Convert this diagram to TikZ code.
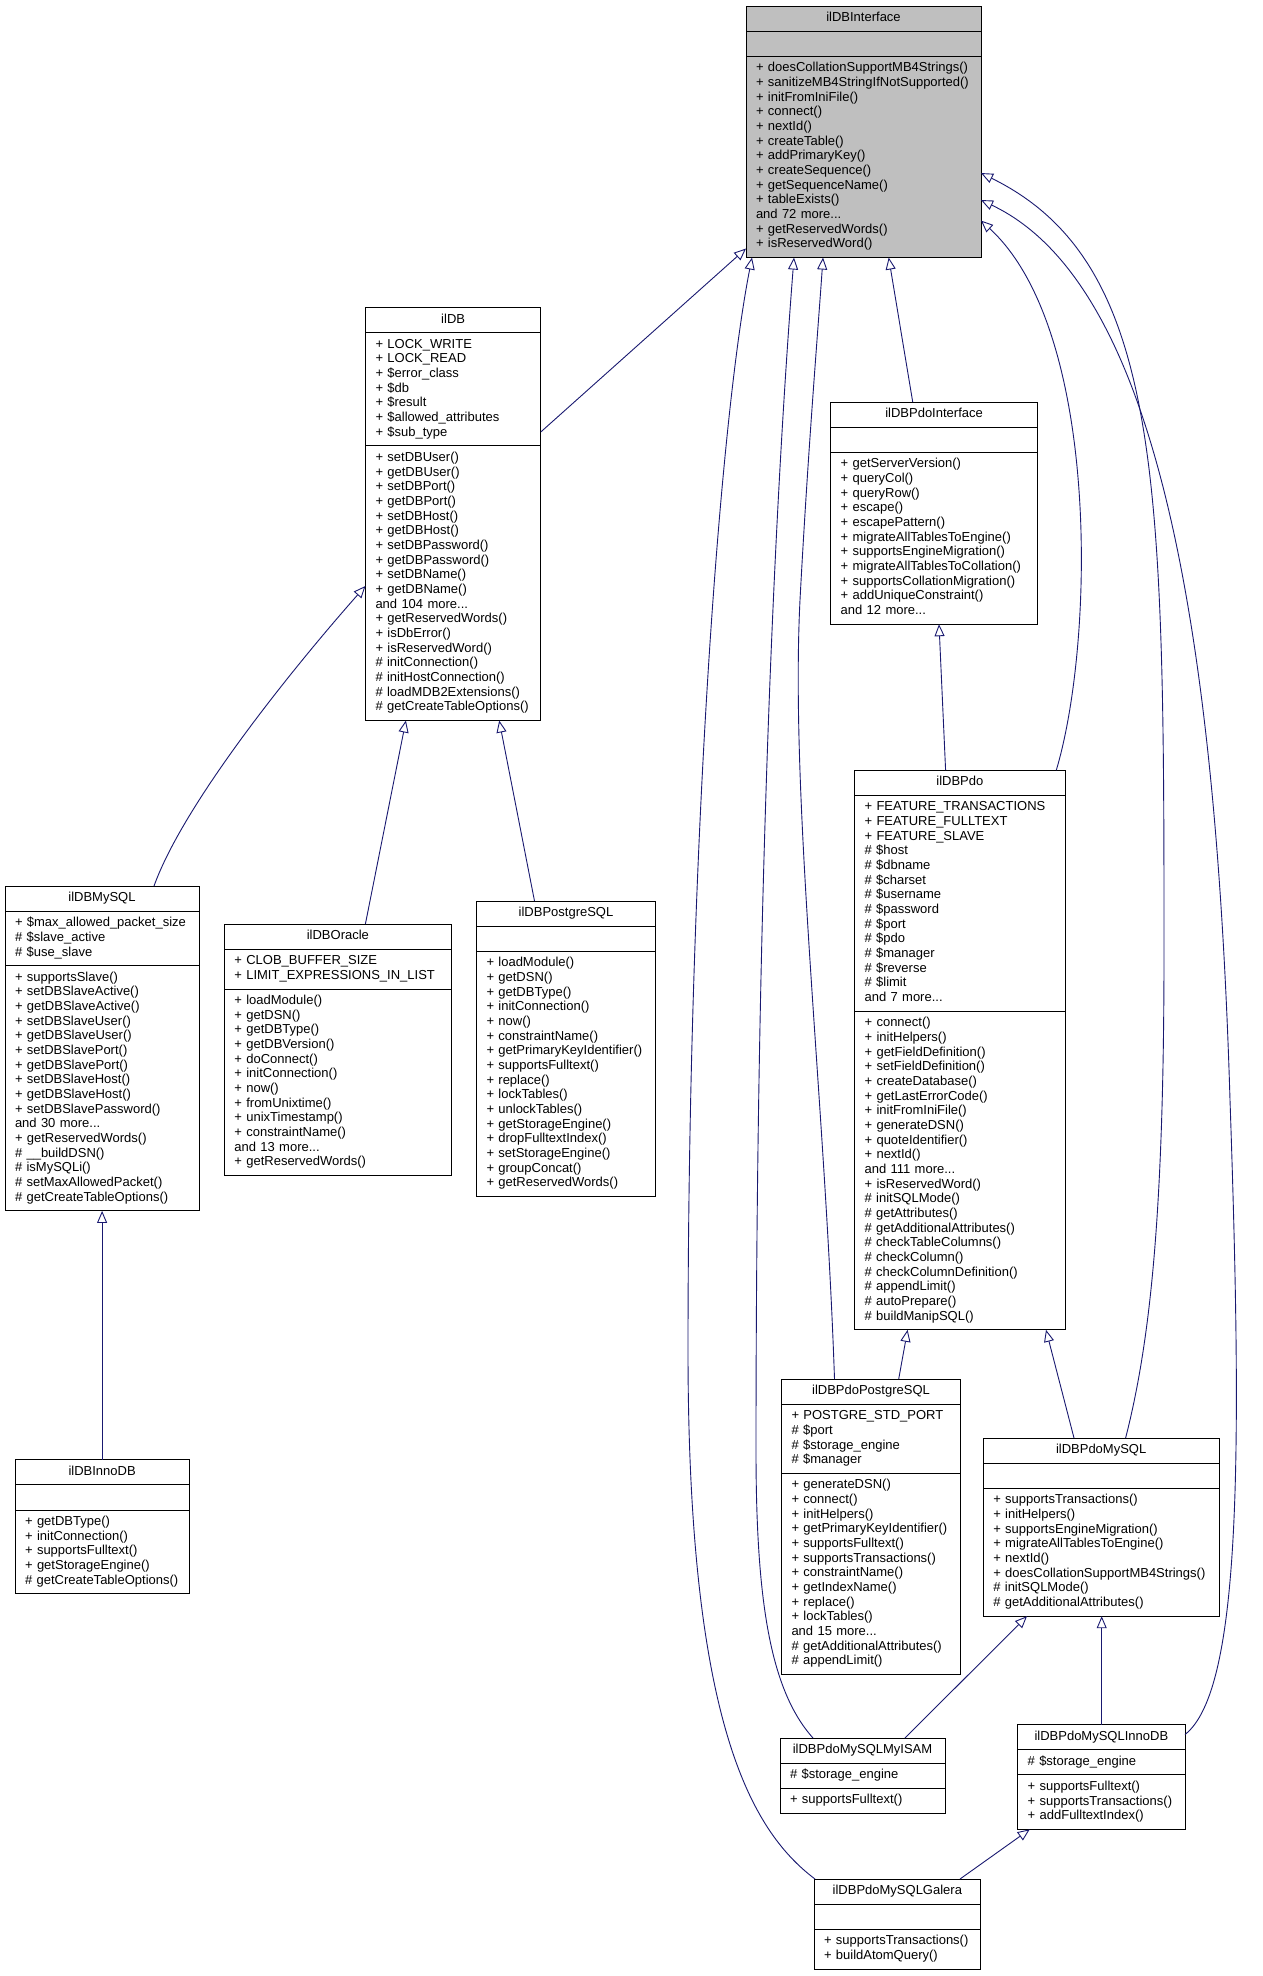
\documentclass[tikz,border=0pt]{standalone}
\usepackage{fontspec}
\setmainfont{Liberation Sans}
\usetikzlibrary{arrows.meta,calc}
\definecolor{edgeblue}{HTML}{191970}
\definecolor{ifacegray}{HTML}{BFBFBF}
\setlength\parindent{0pt}
\ExplSyntaxOn
\NewDocumentCommand\clslines{m}{
  \seq_set_split:Nnn \l_tmpa_seq {;} {#1}
  \bool_set_false:N \l_tmpa_bool
  \seq_map_inline:Nn \l_tmpa_seq
    { \bool_if:NT \l_tmpa_bool { \\ } \bool_set_true:N \l_tmpa_bool \strut\mbox{##1} }
}
\ExplSyntaxOff
\tikzset{
  clsbox/.style={draw=black, line width=1pt, fill=white, inner xsep=10pt, inner ysep=5.25pt,
    font=\fontsize{13}{14.67}\selectfont, outer sep=0pt},
  inh/.style={draw=edgeblue, line width=0.9pt, -{Triangle[open, length=12pt, width=10pt]}},
}
% #1 options, #2 name, #3 x, #4 y (top), #5 width, #6 title, #7 attributes, #8 methods
\newcommand\umlclass[8]{%
  \pgfmathsetmacro\clstw{#5-20}%
  \node[clsbox,#1,align=center,text width=\clstw pt,anchor=north west] (#2) at (#3,#4) {\strut #6};
  \node[clsbox,#1,align=left,text width=\clstw pt,anchor=north west] (#2-a) at (#2.south west) {\strut\clslines{#7}};
  \node[clsbox,#1,align=left,text width=\clstw pt,anchor=north west] (#2-m) at (#2-a.south west) {\strut\clslines{#8}};
}
\begin{document}
\begin{tikzpicture}[x=1pt,y=-1pt]
\fill[white] (0,0) rectangle (1263,1976);
\useasboundingbox (0,0) rectangle (1263,1976);

\umlclass{fill=ifacegray}{iface}{746}{6}{235}{ilDBInterface}{}{
+ doesCollationSupportMB4Strings();
+ sanitizeMB4StringIfNotSupported();
+ initFromIniFile();
+ connect();
+ nextId();
+ createTable();
+ addPrimaryKey();
+ createSequence();
+ getSequenceName();
+ tableExists();
and 72 more...;
+ getReservedWords();
+ isReservedWord()}

\umlclass{}{iDB}{365.5}{307.6}{175.3}{ilDB}{
+ LOCK\_WRITE;
+ LOCK\_READ;
+ \$error\_class;
+ \$db;
+ \$result;
+ \$allowed\_attributes;
+ \$sub\_type}{
+ setDBUser();
+ getDBUser();
+ setDBPort();
+ getDBPort();
+ setDBHost();
+ getDBHost();
+ setDBPassword();
+ getDBPassword();
+ setDBName();
+ getDBName();
and 104 more...;
+ getReservedWords();
+ isDbError();
+ isReservedWord();
\# initConnection();
\# initHostConnection();
\# loadMDB2Extensions();
\# getCreateTableOptions()}

\umlclass{}{pdoiface}{830.7}{402}{206.7}{ilDBPdoInterface}{}{
+ getServerVersion();
+ queryCol();
+ queryRow();
+ escape();
+ escapePattern();
+ migrateAllTablesToEngine();
+ supportsEngineMigration();
+ migrateAllTablesToCollation();
+ supportsCollationMigration();
+ addUniqueConstraint();
and 12 more...}

\umlclass{}{pdo}{854.6}{770.2}{210.5}{ilDBPdo}{
+ FEATURE\_TRANSACTIONS;
+ FEATURE\_FULLTEXT;
+ FEATURE\_SLAVE;
\# \$host;
\# \$dbname;
\# \$charset;
\# \$username;
\# \$password;
\# \$port;
\# \$pdo;
\# \$manager;
\# \$reverse;
\# \$limit;
and 7 more...}{
+ connect();
+ initHelpers();
+ getFieldDefinition();
+ setFieldDefinition();
+ createDatabase();
+ getLastErrorCode();
+ initFromIniFile();
+ generateDSN();
+ quoteIdentifier();
+ nextId();
and 111 more...;
+ isReservedWord();
\# initSQLMode();
\# getAttributes();
\# getAdditionalAttributes();
\# checkTableColumns();
\# checkColumn();
\# checkColumnDefinition();
\# appendLimit();
\# autoPrepare();
\# buildManipSQL()}

\umlclass{}{mysql}{5}{886}{194}{ilDBMySQL}{
+ \$max\_allowed\_packet\_size;
\# \$slave\_active;
\# \$use\_slave}{
+ supportsSlave();
+ setDBSlaveActive();
+ getDBSlaveActive();
+ setDBSlaveUser();
+ getDBSlaveUser();
+ setDBSlavePort();
+ getDBSlavePort();
+ setDBSlaveHost();
+ getDBSlaveHost();
+ setDBSlavePassword();
and 30 more...;
+ getReservedWords();
\# \_\_buildDSN();
\# isMySQLi();
\# setMaxAllowedPacket();
\# getCreateTableOptions()}

\umlclass{}{oracle}{224.4}{924}{227}{ilDBOracle}{
+ CLOB\_BUFFER\_SIZE;
+ LIMIT\_EXPRESSIONS\_IN\_LIST}{
+ loadModule();
+ getDSN();
+ getDBType();
+ getDBVersion();
+ doConnect();
+ initConnection();
+ now();
+ fromUnixtime();
+ unixTimestamp();
+ constraintName();
and 13 more...;
+ getReservedWords()}

\umlclass{}{pgsql}{476.5}{901}{179}{ilDBPostgreSQL}{}{
+ loadModule();
+ getDSN();
+ getDBType();
+ initConnection();
+ now();
+ constraintName();
+ getPrimaryKeyIdentifier();
+ supportsFulltext();
+ replace();
+ lockTables();
+ unlockTables();
+ getStorageEngine();
+ dropFulltextIndex();
+ setStorageEngine();
+ groupConcat();
+ getReservedWords()}

\umlclass{}{innodb}{15.1}{1459.7}{174}{ilDBInnoDB}{}{
+ getDBType();
+ initConnection();
+ supportsFulltext();
+ getStorageEngine();
\# getCreateTableOptions()}

\umlclass{}{pdopg}{781.5}{1379}{179}{ilDBPdoPostgreSQL}{
+ POSTGRE\_STD\_PORT;
\# \$port;
\# \$storage\_engine;
\# \$manager}{
+ generateDSN();
+ connect();
+ initHelpers();
+ getPrimaryKeyIdentifier();
+ supportsFulltext();
+ supportsTransactions();
+ constraintName();
+ getIndexName();
+ replace();
+ lockTables();
and 15 more...;
\# getAdditionalAttributes();
\# appendLimit()}

\umlclass{}{pdomysql}{983.3}{1438}{235.7}{ilDBPdoMySQL}{}{
+ supportsTransactions();
+ initHelpers();
+ supportsEngineMigration();
+ migrateAllTablesToEngine();
+ nextId();
+ doesCollationSupportMB4Strings();
\# initSQLMode();
\# getAdditionalAttributes()}

\umlclass{}{myisam}{780}{1738}{165}{ilDBPdoMySQLMyISAM}{\# \$storage\_engine}{+ supportsFulltext()}

\umlclass{}{pdoinno}{1017.7}{1724.5}{167.3}{ilDBPdoMySQLInnoDB}{\# \$storage\_engine}{
+ supportsFulltext();
+ supportsTransactions();
+ addFulltextIndex()}

\umlclass{}{galera}{814}{1879}{166.7}{ilDBPdoMySQLGalera}{}{
+ supportsTransactions();
+ buildAtomQuery()}

% inheritance connectors (child -> parent)
\draw[inh] ($(iDB-a.south east)+(0,-14)$) -- ($(iface-m.south west)+(0,-9)$);
\draw[inh] ($(mysql.north west)+(149,0)$) .. controls (185,800) and (300,660) .. ($(iDB-m.north west)+(0,140)$);
\draw[inh] ($(oracle.north west)+(141,0)$) -- ($(iDB-m.south west)+(40.4,0)$);
\draw[inh] ($(pgsql.north west)+(58,0)$) -- ($(iDB-m.south west)+(133.7,0)$);
\draw[inh] ($(innodb.north west)+(87,0)$) -- ($(mysql-m.south west)+(97.1,0)$);
\draw[inh] ($(pdoiface.north west)+(82,0)$) -- ($(iface-m.south west)+(142.7,0)$);
\draw[inh] ($(pdo.north west)+(91,0)$) -- ($(pdoiface-m.south west)+(108.3,0)$);
\draw[inh] ($(pdo.north west)+(201.7,0)$) .. controls (1095,640) and (1100,330) .. ($(iface-m.south east)+(0,-37)$);
\draw[inh] ($(pdopg.north west)+(117.2,0)$) -- ($(pdo-m.south west)+(53,0)$);
\draw[inh] ($(pdopg.north west)+(53,0)$) .. controls (825,1100) and (790,800) .. (800,600) .. controls (808,450) and (818,330) .. ($(iface-m.south west)+(77,0)$);
\draw[inh] ($(pdomysql.north west)+(90.7,0)$) -- ($(pdo-m.south west)+(191.4,0)$);
\draw[inh] ($(pdomysql.north west)+(142.3,0)$) .. controls (1152,1335) and (1164,1200) .. (1164,950) .. controls (1164,480) and (1162,262) .. ($(iface-m.south east)+(0,-84.5)$);
\draw[inh] ($(myisam.north west)+(125,0)$) -- ($(pdomysql-m.south west)+(43.7,0)$);
\draw[inh] ($(myisam.north west)+(33,0)$) .. controls (770,1690) and (756,1600) .. (756,1450) .. controls (756,900) and (775,500) .. ($(iface-m.south west)+(48,0)$);
\draw[inh] ($(pdoinno.north west)+(84,0)$) -- ($(pdomysql-m.south west)+(118.4,0)$);
\draw[inh] ($(pdoinno.north east)+(0,10)$) .. controls (1242,1690) and (1242,1450) .. (1230,1100) .. controls (1215,600) and (1150,280) .. ($(iface-m.south east)+(0,-57.5)$);
\draw[inh] ($(galera.north west)+(146,0)$) -- ($(pdoinno-m.south west)+(12,0)$);
\draw[inh] ($(galera.north west)+(1,0)$) .. controls (750,1830) and (688,1720) .. (688,1350) .. controls (688,850) and (720,420) .. ($(iface-m.south west)+(6,0)$);
\end{tikzpicture}
\end{document}
